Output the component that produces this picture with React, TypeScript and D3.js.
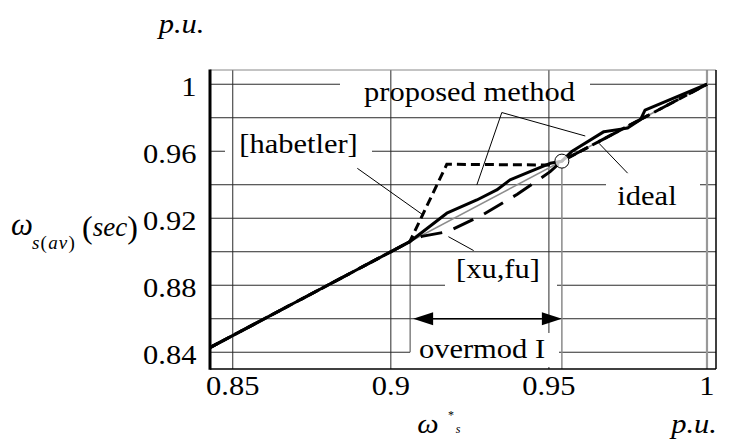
import React from 'react';
import * as d3 from 'd3';

const W = 734;
const H = 441;

// Reference (commanded) speed ω*s in p.u. and averaged stator speed in p.u.
const idealOmega = [0.8428, 1.0];
const idealValue = [0.8428, 1.0];

const proposedOmega = [0.8428, 0.87, 0.89, 0.906, 0.9177, 0.9272, 0.9335, 0.9377, 0.944, 0.9504, 0.9541, 0.9572, 0.9674, 0.9749, 0.979, 0.9804, 1.0];
const proposedValue = [0.8428, 0.87, 0.89, 0.906, 0.923, 0.9309, 0.9369, 0.9429, 0.9478, 0.9528, 0.9541, 0.9598, 0.9717, 0.9738, 0.979, 0.9845, 1.0];

const habetlerOmega = [0.8428, 0.906, 0.9177, 0.9504, 0.9541, 1.0];
const habetlerValue = [0.8428, 0.906, 0.9522, 0.9518, 0.9541, 1.0];

const xufuOmega = [0.8428, 0.906, 0.9098, 0.918, 0.929, 0.94, 0.9504, 0.9541, 1.0];
const xufuValue = [0.8428, 0.906, 0.9092, 0.912, 0.922, 0.9343, 0.9478, 0.9541, 1.0];

// Overmodulation mode I range
const overmodStart = 0.9061;
const overmodEnd = 0.9541;

const yGridValues = [0.84, 0.86, 0.88, 0.9, 0.92, 0.94, 0.96, 0.98, 1.0];
const yTickValues = [0.84, 0.88, 0.92, 0.96, 1.0];
const yTickLabels = ['0.84', '0.88', '0.92', '0.96', '1'];
const xTickValues = [0.85, 0.9, 0.95, 1.0];
const xTickLabels = ['0.85', '0.9', '0.95', '1'];

// Plot frame
const L = 210;
const R = 716;
const T = 70;
const B = 369;

const FONT = 'Liberation Serif';
const STRETCH = 1.13;

const x = d3.scaleLinear().domain([0.8428, 1.00285]).range([L, R]);
const y = d3.scaleLinear().domain([0.83, 1.0085]).range([B, T]);

// gaps cut into horizontal grid lines behind the labels (pixel spans)
const gridGaps: Record<string, [number, number]> = {
  '1': [340, 590],
  '0.96': [225, 372],
  '0.94': [606, 700],
  '0.88': [445, 557],
  '0.84': [410, 559],
};

const toPts = (xs: number[], ys: number[]) => xs.map((v, i) => [v, ys[i]] as [number, number]);
const lineGen = d3
  .line<[number, number]>()
  .x((d) => x(d[0]))
  .y((d) => y(d[1]));

type TxtProps = {
  px: number;
  py: number;
  anchor?: 'start' | 'middle' | 'end';
  size?: number;
  italic?: boolean;
  sx?: number;
  children: React.ReactNode;
};

const Txt = ({ px, py, anchor = 'middle', size = 27, italic = false, sx = STRETCH, children }: TxtProps) => (
  <text
    transform={`translate(${px},${py}) scale(${sx},1)`}
    textAnchor={anchor}
    fontSize={size}
    fontStyle={italic ? 'italic' : 'normal'}
    fontFamily={FONT}
    fill="#000"
  >
    {children}
  </text>
);

export default function App() {
  const yStart = y(overmodStart);
  const xs = x(overmodStart);
  const xe = x(overmodEnd);
  const ya = y(0.86);

  const leaders: [number, number, number, number][] = [
    // proposed method
    [0.9351, 0.9831, 0.9272, 0.9399],
    [0.9351, 0.9831, 0.9615, 0.9691],
    // [habetler]
    [0.8894, 0.9498, 0.9103, 0.9218],
    // ideal
    [0.9658, 0.9648, 0.9749, 0.9469],
    // [xu,fu]
    [0.9182, 0.909, 0.9262, 0.9007],
  ];

  return (
    <svg
      width={W}
      height={H}
      viewBox={`0 0 ${W} ${H}`}
      style={{ position: 'absolute', left: 0, top: 0, background: '#fff' }}
    >
      <defs>
        <clipPath id="plot-clip">
          <rect x={L} y={T} width={R - L} height={B - T} />
        </clipPath>
      </defs>
      <rect x={0} y={0} width={W} height={H} fill="#fff" />

      {/* horizontal grid */}
      {yGridValues.map((v) => {
        const key = String(+v.toFixed(2));
        const gap = gridGaps[key];
        const yy = y(v);
        const d = gap
          ? `M${L},${yy}H${gap[0]}M${gap[1]},${yy}H${R}`
          : `M${L},${yy}H${R}`;
        return <path key={key} d={d} stroke="#2a2a2a" strokeWidth={1} fill="none" />;
      })}

      {/* vertical grid */}
      {xTickValues.map((v) => (
        <line
          key={v}
          x1={x(v)}
          x2={x(v)}
          y1={T}
          y2={B}
          stroke={v === 1 ? '#999' : '#2a2a2a'}
          strokeWidth={v === 1 ? 2.2 : 1}
        />
      ))}

      {/* label box for the overmod range */}
      <rect x={xs + 1} y={333} width={558 - xs - 1} height={34} fill="#fff" />

      {/* overmod boundary markers */}
      <line x1={xs} x2={xs} y1={yStart} y2={y(0.84)} stroke="#444" strokeWidth={1} />
      <line x1={xe} x2={xe} y1={y(overmodEnd) + 7} y2={B} stroke="#8a8a8a" strokeWidth={1.5} />

      <g clipPath="url(#plot-clip)" fill="none">
        <path d={lineGen(toPts(idealOmega, idealValue)) || ''} stroke="#8c8c8c" strokeWidth={1.6} />
        <path
          d={lineGen(toPts(xufuOmega, xufuValue)) || ''}
          stroke="#000"
          strokeWidth={3}
          strokeDasharray="22 12"
        />
        <path
          d={lineGen(toPts(habetlerOmega, habetlerValue)) || ''}
          stroke="#000"
          strokeWidth={3}
          strokeDasharray="9 5"
        />
        <path
          d={lineGen(toPts(proposedOmega, proposedValue)) || ''}
          stroke="#000"
          strokeWidth={3}
          strokeLinejoin="round"
        />
      </g>

      {/* crossing point */}
      <circle cx={xe} cy={y(overmodEnd)} r={7} fill="#fff" fillOpacity={0.75} stroke="#000" strokeWidth={1} />

      {/* callout lines */}
      {leaders.map((l, i) => (
        <line key={i} x1={x(l[0])} y1={y(l[1])} x2={x(l[2])} y2={y(l[3])} stroke="#000" strokeWidth={1} />
      ))}

      {/* overmod I range arrow */}
      <line x1={xs + 20} x2={xe - 20} y1={ya} y2={ya} stroke="#000" strokeWidth={1.3} />
      <polygon points={`${xs + 3},${ya} ${xs + 23},${ya - 6.5} ${xs + 23},${ya + 6.5}`} fill="#000" />
      <polygon points={`${xe},${ya} ${xe - 20},${ya - 6.5} ${xe - 20},${ya + 6.5}`} fill="#000" />

      {/* frame */}
      <line x1={L} x2={R} y1={T} y2={T} stroke="#888" strokeWidth={1} />
      <line x1={R} x2={R} y1={T} y2={B} stroke="#000" strokeWidth={1.5} />
      <line x1={L} x2={R} y1={B} y2={B} stroke="#000" strokeWidth={1.5} />
      <line x1={L} x2={L} y1={T - 0.5} y2={B + 0.75} stroke="#000" strokeWidth={3} />

      {/* tick labels */}
      {yTickValues.map((v, i) => (
        <Txt key={v} px={196.5} py={y(v) + 12} anchor="end">
          {yTickLabels[i]}
        </Txt>
      ))}
      {xTickValues.map((v, i) => (
        <Txt key={v} px={x(v)} py={395}>
          {xTickLabels[i]}
        </Txt>
      ))}

      {/* units */}
      <Txt px={181.5} py={33} italic>
        p.u.
      </Txt>
      <Txt px={694} py={433} italic>
        p.u.
      </Txt>

      {/* x axis symbol ω*s */}
      <Txt px={428} py={433} size={28} italic sx={1.08}>
        ω
      </Txt>
      <Txt px={451} py={419} size={12} sx={1}>
        *
      </Txt>
      <Txt px={458} py={433} size={12} italic sx={1}>
        s
      </Txt>

      {/* y axis symbol ω s(av) (sec) */}
      <text fontFamily={FONT} fill="#000">
        <tspan x={11} y={235} fontSize={31} fontStyle="italic">ω</tspan>
        <tspan x={32} y={249} fontSize={19} fontStyle="italic" letterSpacing={1.2}>s</tspan>
        <tspan fontSize={19} letterSpacing={1.2}>(</tspan>
        <tspan fontSize={19} fontStyle="italic" letterSpacing={1.2}>av</tspan>
        <tspan fontSize={19}>)</tspan>
        <tspan x={82} y={238} fontSize={32}>(</tspan>
        <tspan fontSize={27} fontStyle="italic" dy={-2}>sec</tspan>
        <tspan fontSize={32} dy={2}>)</tspan>
      </text>

      {/* annotations */}
      <Txt px={469.5} py={101}>proposed method</Txt>
      <Txt px={298.5} py={153}>[habetler]</Txt>
      <Txt px={647} py={205}>ideal</Txt>
      <Txt px={498} py={278}>[xu,fu]</Txt>
      <Txt px={482} py={358}>overmod I</Txt>
    </svg>
  );
}
